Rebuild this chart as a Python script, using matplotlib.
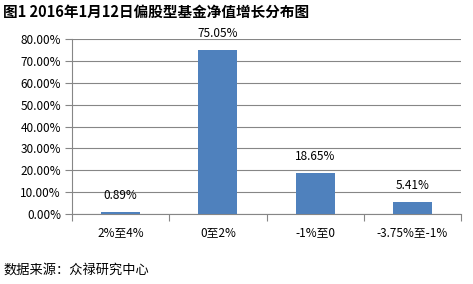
import matplotlib
matplotlib.use("Agg")
import matplotlib.pyplot as plt
from matplotlib.ticker import FuncFormatter, MultipleLocator

plt.rcParams['font.family'] = ['Noto Sans CJK SC', 'DejaVu Sans']

categories = ["2%至4%", "0至2%", "-1%至0", "-3.75%至-1%"]
values = [0.89, 75.05, 18.65, 5.41]
labels = ["0.89%", "75.05%", "18.65%", "5.41%"]
title = "图1 2016年1月12日偏股型基金净值增长分布图"
source = "数据来源：众禄研究中心"

W, H = 473, 284
fig = plt.figure(figsize=(W/100, H/100), dpi=100)
ax = fig.add_axes([72/W, 1-214/H, (461-72)/W, (214-39)/H])

x = list(range(len(categories)))
ax.bar(x, values, width=0.4, color="#4f81bd", zorder=3)
ax.set_xlim(-0.5, len(categories)-0.5)
ax.set_ylim(0, 80)
ax.yaxis.set_major_locator(MultipleLocator(10))
ax.yaxis.set_major_formatter(FuncFormatter(lambda v, p: f"{v:.2f}%"))
ax.grid(axis='y', color="#868686", linewidth=0.8, zorder=0)

ax.set_xticks([i-0.5 for i in range(len(categories)+1)])
ax.set_xticklabels([])
ax.set_xticks(x, minor=True)
ax.set_xticklabels(categories, minor=True)
ax.tick_params(axis='x', which='minor', length=0, pad=9, labelsize=8.5)
ax.tick_params(axis='x', which='major', length=5, color="#868686", width=0.8)
ax.tick_params(axis='y', length=5, color="#868686", width=0.8, labelsize=8.5, pad=3)

for s in ['top', 'right']:
    ax.spines[s].set_visible(False)
for s in ['left', 'bottom']:
    ax.spines[s].set_color("#868686")
    ax.spines[s].set_linewidth(0.8)

for xi, v, lab in zip(x, values, labels):
    ax.annotate(lab, (xi, v), xytext=(0, 7), textcoords='offset points',
                ha='center', va='bottom', fontsize=8.5)

fig.text(3/W, 1-12/H, title, fontsize=10.5, fontweight='bold', va='center', ha='left')
fig.text(3/W, 1-270/H, source, fontsize=9.5, va='center', ha='left')

fig.savefig("out.png", dpi=100)
